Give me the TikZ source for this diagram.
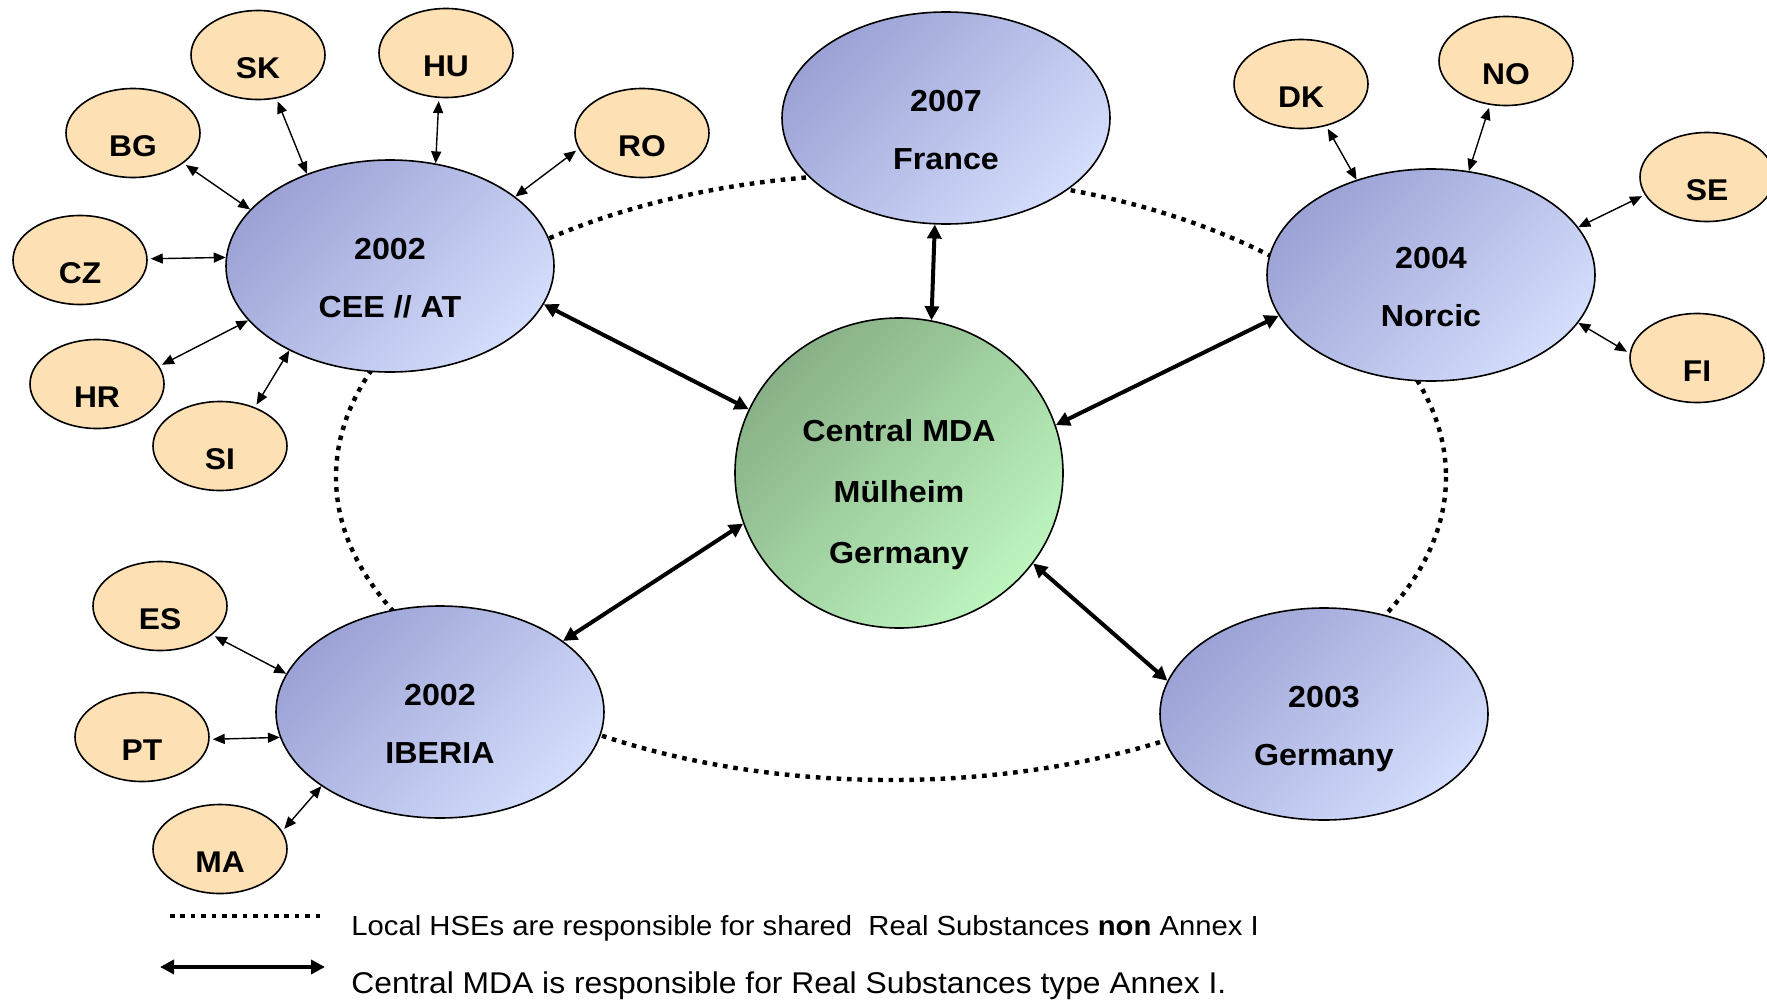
\documentclass[tikz,border=0pt]{standalone}
\usepackage{fontspec}
\setmainfont{Liberation Sans}[FakeStretch=1.06]
\usetikzlibrary{arrows.meta,shapes.geometric}

\definecolor{peach}{RGB}{253,224,179}
\definecolor{bluedark}{RGB}{156,162,213}
\definecolor{bluelight}{RGB}{212,221,252}
\definecolor{greendark}{RGB}{136,176,134}
\definecolor{greenlight}{RGB}{189,245,191}

\begin{document}
\begin{tikzpicture}[x=0.5pt,y=-0.5pt,
    region/.style={ellipse,draw,line width=0.8pt,inner sep=0pt,
      minimum width=164pt,minimum height=106pt,
      left color=bluedark,middle color=bluelight!80!bluedark,right color=bluelight,shading angle=45,
      align=center,font=\fontsize{15.2}{29}\selectfont\bfseries,text height=51.5pt,text depth=0pt},
    central/.style={ellipse,draw,line width=0.8pt,inner sep=0pt,
      minimum width=164pt,minimum height=155pt,
      left color=greendark,middle color=greenlight!70!greendark,right color=greenlight,shading angle=45,
      align=center,font=\fontsize{15.2}{30.5}\selectfont\bfseries,text height=90pt,text depth=0pt},
    country/.style={ellipse,draw,line width=0.8pt,fill=peach,inner sep=0pt,
      minimum width=67pt,minimum height=44.5pt,
      font=\fontsize{15}{18}\selectfont\bfseries,text height=23pt,text depth=0pt},
    hseline/.style={line width=2.2pt,dash pattern=on 2.3pt off 2.9pt},
    mdaarrow/.style={line width=2pt,{Triangle[length=7pt,width=7pt]}-{Triangle[length=7pt,width=7pt]}},
    cntarrow/.style={line width=0.7pt,shorten <=1.5pt,{Triangle[length=6pt,width=5pt]}-{Triangle[length=6pt,width=5pt]}}]

  \useasboundingbox (0,0) rectangle (1767,1001);

  \draw[hseline] (891,477) ellipse [x radius=555, y radius=303];

  \node[central] (mda) at (899,473) {Central MDA\\Mülheim\\Germany};
  \node[region] (fr) at (946,118) {2007\\France};
  \node[region] (cee) at (390,266) {2002\\CEE // AT};
  \node[region] (nor) at (1431,275) {2004\\Norcic};
  \node[region] (ibe) at (440,712) {2002\\IBERIA};
  \node[region] (ger) at (1324,714) {2003\\Germany};

  \node[country] (sk) at (258,55) {SK};
  \node[country] (hu) at (446,53) {HU};
  \node[country] (bg) at (133,133) {BG};
  \node[country] (ro) at (642,133) {RO};
  \node[country] (cz) at (80,260) {CZ};
  \node[country] (hr) at (97,384) {HR};
  \node[country] (si) at (220,446) {SI};
  \node[country] (dk) at (1301,84) {DK};
  \node[country] (no) at (1506,61) {NO};
  \node[country] (se) at (1707,177) {SE};
  \node[country] (fi) at (1697,358) {FI};
  \node[country] (es) at (160,606) {ES};
  \node[country] (pt) at (142,737) {PT};
  \node[country] (ma) at (220,849) {MA};

  \draw[mdaarrow] (cee.-14) -- (mda.157);
  \draw[mdaarrow] (fr.-96) -- (mda.78);
  \draw[mdaarrow] (nor.195.5) -- (mda.17);
  \draw[mdaarrow] (ibe.30) -- (mda.198.6);
  \draw[mdaarrow] (ger.168) -- (mda.-34);

  \draw[cntarrow] (sk.-67) -- (cee.132.6);
  \draw[cntarrow] (hu.-99) -- (cee.66.4);
  \draw[cntarrow] (bg.-31.4) -- (cee.158.6);
  \draw[cntarrow] (cz.1.5) -- (cee.177);
  \draw[cntarrow] (hr.16.3) -- (cee.201);
  \draw[cntarrow] (si.48.3) -- (cee.220);
  \draw[cntarrow] (ro.194) -- (cee.29);
  \draw[cntarrow] (dk.-59) -- (nor.128.4);
  \draw[cntarrow] (no.-110.7) -- (nor.70);
  \draw[cntarrow] (se.196.7) -- (nor.18.3);
  \draw[cntarrow] (fi.176) -- (nor.-18.5);
  \draw[cntarrow] (es.-29.3) -- (ibe.166.8);
  \draw[cntarrow] (pt.-2.5) -- (ibe.189.6);
  \draw[cntarrow] (ma.16.5) -- (ibe.212.6);

  \coordinate (dotA) at (170,916);
  \coordinate (dotB) at (325,916);
  \draw[hseline] (dotA) -- (dotB);
  \node[anchor=base west,inner sep=0pt,font=\fontsize{13.8}{16}\selectfont] (txtA) at (351,935)
    {Local HSEs are responsible for shared~ Real Substances \textbf{non} Annex I};
  \coordinate (arrA) at (160,967);
  \coordinate (arrB) at (325,967);
  \draw[mdaarrow] (arrA) -- (arrB);
  \node[anchor=base west,inner sep=0pt,font=\fontsize{15}{18}\selectfont] (txtB) at (351,993)
    {Central MDA is responsible for Real Substances type Annex I.};
\end{tikzpicture}
\end{document}
